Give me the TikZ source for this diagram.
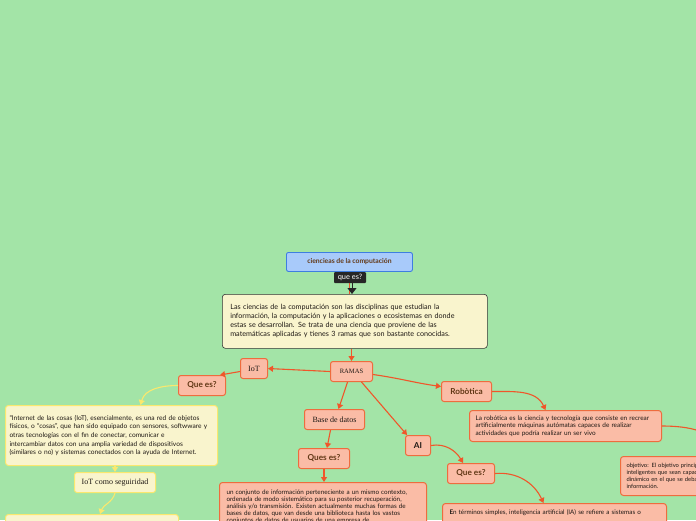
\documentclass[tikz,border=0pt]{standalone}
\usepackage{fontspec}
\setmainfont{Liberation Serif}
\setsansfont{Lato}
\usepackage{xcolor}
\usetikzlibrary{arrows.meta, positioning}

\definecolor{bggreen}{RGB}{163,228,167}
\definecolor{rootfill}{RGB}{168,202,250}
\definecolor{rootline}{RGB}{62,126,224}
\definecolor{creamfill}{RGB}{249,244,205}
\definecolor{yellowline}{RGB}{250,232,110}
\definecolor{salmonfill}{RGB}{250,188,166}
\definecolor{salmonline}{RGB}{238,108,62}
\definecolor{linkred}{RGB}{240,86,42}
\definecolor{titlebrown}{RGB}{98,56,22}
\definecolor{bodytext}{RGB}{30,24,20}

\begin{document}
\begin{tikzpicture}[x=1pt, y=-1pt, >={Triangle[length=5pt,width=5pt]}]
    \tikzset{
        rootbox/.style={rectangle, draw=rootline, fill=rootfill, rounded corners=2pt, line width=0.9pt, minimum width=126pt, minimum height=19pt, anchor=north west, text=titlebrown, font=\sffamily\bfseries\fontsize{6.8}{8}\selectfont},
        tagbox/.style={rectangle, fill=black!85, rounded corners=1pt, minimum width=32pt, minimum height=11pt, inner sep=1pt, text=white, font=\sffamily\fontsize{7.4}{8}\selectfont},
        descbox/.style={rectangle, draw=black!80, fill=creamfill, rounded corners=3pt, line width=0.6pt, anchor=north west, align=left, text=bodytext, inner xsep=8pt},
        ynote/.style={rectangle, draw=yellowline, fill=creamfill, rounded corners=3pt, line width=1pt, anchor=north west, align=left, text=bodytext, inner xsep=6pt},
        snote/.style={rectangle, draw=salmonline, fill=salmonfill, rounded corners=3pt, line width=1pt, anchor=north west, align=left, text=bodytext, inner xsep=9pt},
        branch/.style={rectangle, draw=salmonline, fill=salmonfill, rounded corners=2.5pt, line width=1pt, minimum height=20pt, inner xsep=2pt, anchor=north west, text=bodytext, font=\rmfamily\fontsize{8}{9}\selectfont},
        topic/.style={rectangle, draw=salmonline, fill=salmonfill, rounded corners=2.5pt, line width=1pt, minimum height=20pt, inner xsep=2pt, anchor=north west, text=titlebrown, font=\sffamily\bfseries\fontsize{8.2}{9}\selectfont},
        ytopic/.style={rectangle, draw=yellowline, fill=creamfill, rounded corners=2.5pt, line width=1pt, minimum height=20pt, inner xsep=2pt, anchor=north west, text=bodytext, font=\rmfamily\fontsize{8}{9}\selectfont},
        link/.style={draw=linkred, line width=1.1pt, ->, >={Triangle[length=5pt,width=6pt]}},
        ylink/.style={draw=yellowline, line width=1.1pt, ->, >={Triangle[length=5pt,width=6pt]}}
    }

    \fill[bggreen] (0,0) rectangle (696,520);
    \useasboundingbox (0,0) rectangle (696,520);
    \clip (0,0) rectangle (696,520);

    % centre
    \node (Root) [rootbox] at (286,252) {ciencieas de la computación};
    \node (Desc) [descbox, minimum width=265pt, minimum height=54pt, text width=249pt, font=\sffamily\fontsize{7.2}{9}\selectfont] at (222,294)
        {Las ciencias de la computación son las disciplinas que estudian la\\
         información, la computación y la aplicaciones o ecosistemas en donde\\
         estas se desarrollan. Se trata de una ciencia que proviene de las\\
         matemáticas aplicadas y tienes 3 ramas que son bastante conocidas.};
    \node (Ramas) [branch, minimum width=42pt, font=\rmfamily\fontsize{6.6}{8}\selectfont] at (330,361) {RAMAS};

    % IoT
    \node (IoT) [branch, minimum width=27pt] at (240,358) {IoT};
    \node (QueIoT) [topic, minimum width=47pt] at (178,375) {Que es?};
    \node (IoTDesc) [ynote, minimum width=212pt, minimum height=60pt, text width=204pt, inner xsep=4pt, font=\sffamily\fontsize{6.6}{8.6}\selectfont] at (5,405)
        {“Internet de las cosas (IoT), esencialmente, es una red de objetos\\
         físicos, o “cosas”, que han sido equipado con sensores, softwware y\\
         otras tecnologías con el fin de conectar, comunicar e\\
         intercambiar datos con una amplia variedad de dispositivos\\
         (similares o no) y sistemas conectados con la ayuda de Internet.};
    \node (IoTSeg) [ytopic, minimum width=81pt] at (74,472) {IoT como seguiridad};
    \node (IoTNext) [ynote, minimum width=173pt, minimum height=40pt] at (5,514) {};

    % Base de datos
    \node (BD) [branch, minimum width=60pt] at (304,409) {Base de datos};
    \node (QuesBD) [topic, minimum width=51pt] at (298,448) {Ques es?};
    \node (BDDesc) [snote, minimum width=207pt, text width=193pt, inner xsep=7pt, inner ysep=7pt, font=\sffamily\fontsize{6.3}{7.1}\selectfont] at (219,482)
        {un conjunto de información perteneciente a un mismo contexto,\\
         ordenada de modo sistemático para su posterior recuperación,\\
         análisis y/o transmisión. Existen actualmente muchas formas de\\
         bases de datos, que van desde una biblioteca hasta los vastos\\
         conjuntos de datos de usuarios de una empresa de};

    % AI
    \node (AI) [topic, minimum width=25pt, text=bodytext] at (405,435) {AI};
    \node (QueAI) [topic, minimum width=47pt] at (447,463) {Que es?};
    \node (AIDesc) [snote, minimum width=224pt, text width=210pt, inner xsep=7pt, inner ysep=6pt, font=\sffamily\fontsize{6.3}{7.2}\selectfont] at (442,503)
        {\textbf{E}n términos simples, inteligencia artificial (IA) se refiere a sistemas o\\ \strut\\ \strut};

    % Robotica
    \node (Rob) [topic, minimum width=50pt] at (441,381) {Robòtica};
    \node (RobDesc) [snote, minimum width=191pt, minimum height=31pt, text width=180pt, inner xsep=6pt, font=\sffamily\fontsize{6.4}{7.2}\selectfont] at (469,410)
        {La robótica es la ciencia y tecnología que consiste en recrear\\
         artificialmente máquinas autómatas capaces de realizar\\
         actividades que podría realizar un ser vivo};
    \node (Obj) [snote, minimum width=200pt, minimum height=39pt, text width=188pt, inner xsep=6pt, font=\sffamily\fontsize{5.8}{6.8}\selectfont] at (620,456)
        {objetivo: El objetivo principal es crear máquinas\\
         inteligentes que sean capaces de actuar en un entorno\\
         dinámico en el que se deba procesar mucha\\
         información.};

    % connectors
    \draw [link, -] (Root.south) -- (Root.south |- Desc.north);
    \node (Tag) [tagbox] at (350,277.5) {que es?};
    \draw [black!85, line width=1pt, -{Triangle[length=6pt,width=9pt]}] ([xshift=2pt]Tag.south) -- ([xshift=2pt]Tag.south |- Desc.north);
    \draw [link] (Desc.south -| Ramas.north) -- (Ramas.north);

    \draw [link] (Ramas.west) -- (IoT.east);
    \draw [link] ([yshift=-3pt]IoT.west) -- ([xshift=-6pt]QueIoT.north east);
    \draw [ylink] (QueIoT.west) to[out=180, in=75] ([xshift=29pt]IoTDesc.north);
    \draw [ylink] (IoTDesc.south -| IoTSeg.north) -- (IoTSeg.north);
    \draw [ylink] (IoTSeg.south) to[out=-105, in=70] ([xshift=8pt]IoTNext.north);

    \draw [link] ([xshift=-4pt]Ramas.south) -- ([xshift=4pt]BD.north);
    \draw [link] ([xshift=-4pt]BD.south) -- ([xshift=3pt]QuesBD.north);
    \draw [link] (QuesBD.south) -- (QuesBD.south |- BDDesc.north);

    \draw [link] ([xshift=10pt]Ramas.south) -- ([xshift=2pt]AI.north west);
    \draw [link] (AI.east) to[out=10, in=120] ([xshift=-8pt]QueAI.north);
    \draw [link] (QueAI.east) to[out=5, in=115] ([xshift=-11pt]AIDesc.north);

    \draw [link] ([yshift=-3pt]Ramas.east) to[out=-8, in=172] ([yshift=5pt]Rob.west);
    \draw [link] (Rob.east) to[out=0, in=115] ([xshift=-20pt]RobDesc.north);
    \draw [link] (RobDesc.east) to[out=0, in=100] (Obj.north);
\end{tikzpicture}
\end{document}
